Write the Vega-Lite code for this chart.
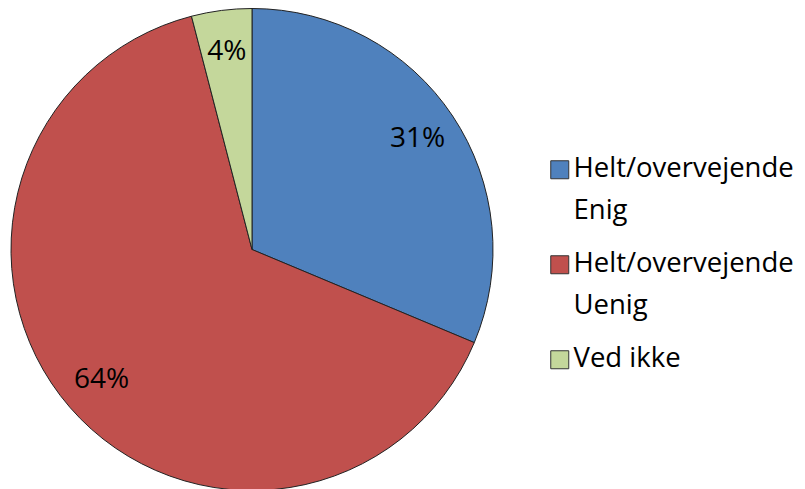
{
  "$schema": "https://vega.github.io/schema/vega-lite/v6.json",
  "width": 504,
  "height": 489,
  "autosize": "none",
  "padding": {"left": 0, "top": 5, "right": 301, "bottom": 0},
  "background": "white",
  "config": {"view": {"stroke": null}, "font": "Open Sans"},
  "data": {
    "values": [
      {"kategori": "Helt/overvejende\nEnig", "andel": 31, "etiket": "31%", "orden": 1},
      {"kategori": "Helt/overvejende\nUenig", "andel": 64, "etiket": "64%", "orden": 2},
      {"kategori": "Ved ikke", "andel": 4, "etiket": "4%", "orden": 3}
    ]
  },
  "encoding": {
    "theta": {"field": "andel", "type": "quantitative", "stack": true},
    "order": {"field": "orden", "type": "quantitative"}
  },
  "layer": [
    {
      "mark": {"type": "arc", "outerRadius": 241, "stroke": "#222", "strokeWidth": 1},
      "encoding": {
        "color": {
          "field": "kategori",
          "type": "nominal",
          "sort": ["Helt/overvejende\nEnig", "Helt/overvejende\nUenig", "Ved ikke"],
          "scale": {
            "domain": ["Helt/overvejende\nEnig", "Helt/overvejende\nUenig", "Ved ikke"],
            "range": ["#4F81BD", "#C0504D", "#C4D79B"]
          },
          "legend": {
            "title": null,
            "orient": "none",
            "legendX": 546,
            "legendY": 151,
            "symbolType": "square",
            "symbolSize": 324,
            "symbolStrokeColor": "#333",
            "symbolStrokeWidth": 1,
            "symbolOpacity": 1,
            "labelFontSize": 27.5,
            "labelFont": "Open Sans",
            "labelColor": "black",
            "labelLimit": 0,
            "labelOffset": 0,
            "labelBaseline": "top",
            "rowPadding": 24,
            "labelExpr": "split(datum.label, '\\n')",
            "encode": {
              "labels": {"update": {"lineHeight": {"value": 42}, "dy": {"value": -15}}}
            }
          }
        }
      }
    },
    {
      "mark": {"type": "text", "radius": 199, "fontSize": 28, "font": "Open Sans", "color": "black"},
      "encoding": {"text": {"field": "etiket"}}
    }
  ]
}
